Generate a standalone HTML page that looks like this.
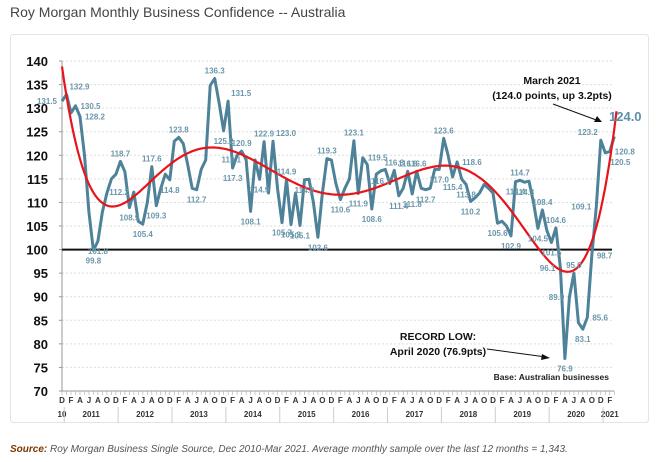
<!DOCTYPE html>
<html><head><meta charset="utf-8">
<style>
body{margin:0;width:660px;height:462px;background:#fff;font-family:"Liberation Sans",sans-serif;overflow:hidden}
svg{position:absolute;left:0;top:0}
</style></head>
<body>
<svg id="c" width="660" height="462"></svg>
<script>
const values=[131.5,132.9,129,130.5,128.2,120,108,99.8,101.8,108,112,115,116,118.7,116.5,108.9,112.2,106,105.4,110,117.6,109.3,113,116,114.8,123,123.8,122.5,118,113,112.7,117,119,134.8,136.3,131,125.2,131.5,117.3,120,120.9,119.1,108.1,119,114.9,122.9,112,123.0,113,105.7,114.9,105.3,112,105.1,114.8,114.9,110,102.6,112,119.3,119,114,110.6,113,115,123.1,111.9,119.5,118,108.6,116,116.7,117,114,116.8,111.4,113,116.6,111.8,116.6,113,112.7,113,117,117.0,123.6,120,115.4,118.6,115,113.8,110.2,111,112,113.8,113,112,105.6,106,105,102.9,114.4,114.7,114.3,114.5,110,104.5,108.4,104,101.5,104.6,96.1,76.9,89.9,95.0,84.5,83.1,85.6,98.7,109.1,123.2,120.5,120.8,124.0];
const yTicks=[70,75,80,85,90,95,100,105,110,115,120,125,130,135,140];
const years=["10","2011","2012","2013","2014","2015","2016","2017","2018","2019","2020","2021"];
const labelIdx=[0,1,3,4,7,8,13,15,16,18,20,21,24,26,30,34,36,37,38,40,41,42,44,45,47,49,50,51,53,54,57,59,62,65,66,67,69,71,74,75,77,78,79,81,84,85,87,88,90,91,97,100,101,102,103,106,107,109,110,111,112,113,114,116,117,118,119,120,121,122];
const labelPos={0:'l',1:'ar',3:'r',4:'r',16:'l',24:'b',36:'b',37:'ar',41:'l',47:'ar',67:'r',88:'r',107:'a',109:'b',111:'l',113:'l',117:'r',118:'r',119:'l',120:'al',121:'br',122:'r'};
const NS="http://www.w3.org/2000/svg";
const svg=document.getElementById('c');
const X0=62,DX=4.49,Y70=391,YPU=4.714;
const x=i=>X0+i*DX, y=v=>Y70-(v-70)*YPU;
function el(t,a,txt){const e=document.createElementNS(NS,t);for(const k in a)e.setAttribute(k,a[k]);if(txt!=null)e.textContent=txt;svg.appendChild(e);return e;}
let e;
e=el('text',{x:10,y:17,'font-size':14,fill:'#444'},'Roy Morgan Monthly Business Confidence -- Australia');

e=el('rect',{x:10.5,y:34.5,width:638,height:388,fill:'none',stroke:'#e4e4e4',rx:3});

yTicks.forEach(t=>{
 if(t>70){e=el('line',{x1:X0,x2:614,y1:y(t),y2:y(t),stroke:'#ddd','stroke-dasharray':'2,2'});
 }
 e=el('text',{x:48,y:y(t)+5,'text-anchor':'end','font-size':13,'font-weight':'bold',fill:'#111'},t);
 
 el('line',{x1:X0-3,x2:X0,y1:y(t),y2:y(t),stroke:'#999'});
});
e=el('line',{x1:X0,x2:X0,y1:y(140),y2:Y70,stroke:'#999'});

e=el('line',{x1:X0,x2:614,y1:Y70,y2:Y70,stroke:'#999'});

const ml="JFMAMJJASOND";
for(let i=0;i<values.length;i++){
 el('line',{x1:x(i),x2:x(i),y1:Y70,y2:Y70+4,stroke:'#aaa','stroke-width':0.6});
 const m=(i+11)%12;
 if(i%2===0){e=el('text',{x:x(i),y:Y70+12,'text-anchor':'middle','font-size':8,'font-weight':'bold',fill:'#333'},ml[m]);
 }
}
years.forEach((yr,k)=>{
 let cx= k===0?x(0):(k===11?x(122):x(12*k-5.5));
 e=el('text',{x:cx,y:Y70+26,'text-anchor':'middle','font-size':8,'font-weight':'bold',fill:'#333'},yr);
 
 if(k>0){el('line',{x1:x(12*k-11.5),x2:x(12*k-11.5),y1:Y70+16,y2:Y70+32,stroke:'#ccc'});}
});
const n=values.length,deg=6;
const A=[],B=[];
for(let r=0;r<=deg;r++){A.push(new Array(deg+1).fill(0));B.push(0);}
values.forEach((v,i)=>{const t=2*i/(n-1)-1;for(let r=0;r<=deg;r++){for(let c=0;c<=deg;c++)A[r][c]+=Math.pow(t,r+c);B[r]+=v*Math.pow(t,r);}});
for(let p=0;p<=deg;p++){for(let r=p+1;r<=deg;r++){const f=A[r][p]/A[p][p];for(let c=p;c<=deg;c++)A[r][c]-=f*A[p][c];B[r]-=f*B[p];}}
const co=new Array(deg+1).fill(0);
for(let r=deg;r>=0;r--){let s=B[r];for(let c=r+1;c<=deg;c++)s-=A[r][c]*co[c];co[r]=s/A[r][r];}
const poly=i=>{const t=2*i/(n-1)-1;let s=0;for(let r=0;r<=deg;r++)s+=co[r]*Math.pow(t,r);return s;};
e=el('line',{x1:X0,x2:612,y1:y(100),y2:y(100),stroke:'#111','stroke-width':2});

let d='';values.forEach((v,i)=>{d+=(i?'L':'M')+x(i).toFixed(1)+','+y(v).toFixed(1);});
e=el('path',{d:d,fill:'none',stroke:'#4e8299','stroke-width':3,'stroke-linejoin':'round'});

let d2='';for(let i=0;i<n;i+=0.5){d2+=(i?'L':'M')+x(i).toFixed(1)+','+y(poly(i)).toFixed(1);}
e=el('path',{d:d2,fill:'none',stroke:'#e8141b','stroke-width':2.2});

labelIdx.forEach(i=>{
 const v=values[i];const prev=values[i-1]??v,next=values[i+1]??v;
 let p=labelPos[i]||((v>=prev&&v>=next)?'a':'b');
 let lx=x(i),ly=y(v),anc='middle';
 if(p==='a'){ly-=5;}else if(p==='b'){ly+=13;}
 else if(p==='l'){lx-=5;ly+=3;anc='end';}
 else if(p==='r'){lx+=5;ly+=3;anc='start';}
 else if(p==='ar'){lx+=3;ly-=5;anc='start';}
 else if(p==='al'){lx-=3;ly-=5;anc='end';}
 else if(p==='br'){lx+=5;ly+=12;anc='start';}
 e=el('text',{x:lx,y:ly,'text-anchor':anc,'font-size':8,'font-weight':'bold',fill:'#6a97ab'},v.toFixed(1));
 
});
e=el('text',{x:609,y:121,'font-size':13,'font-weight':'bold',fill:'#5a90aa'},values[n-1].toFixed(1));

e=el('text',{x:552,y:84,'text-anchor':'middle','font-size':10.5,'font-weight':'bold',fill:'#111'},'March 2021');

el('text',{x:552,y:99,'text-anchor':'middle','font-size':10.5,'font-weight':'bold',fill:'#111'},'(124.0 points, up 3.2pts)');
el('line',{x1:553,y1:104,x2:599,y2:121,stroke:'#111','stroke-width':1});
el('path',{d:'M602,122 L594,122 L597,116 Z',fill:'#111'});
e=el('text',{x:438,y:340,'text-anchor':'middle','font-size':10.5,'font-weight':'bold',fill:'#111'},'RECORD LOW:');

el('text',{x:438,y:355,'text-anchor':'middle','font-size':10.5,'font-weight':'bold',fill:'#111'},'April 2020 (76.9pts)');
el('line',{x1:487,y1:349,x2:546,y2:357,stroke:'#111','stroke-width':1});
el('path',{d:'M550,358 L542,354 L541,360 Z',fill:'#111'});
e=el('text',{x:609,y:380,'text-anchor':'end','font-size':8.5,'font-weight':'bold',fill:'#222'},'Base: Australian businesses');

e=el('text',{x:10,y:452,'font-size':10,'font-style':'italic',fill:'#555'});

e.innerHTML='<tspan font-weight="bold" fill="#7a3a00">Source:</tspan> Roy Morgan Business Single Source, Dec 2010-Mar 2021. Average monthly sample over the last 12 months = 1,343.';
</script>
</body></html>
